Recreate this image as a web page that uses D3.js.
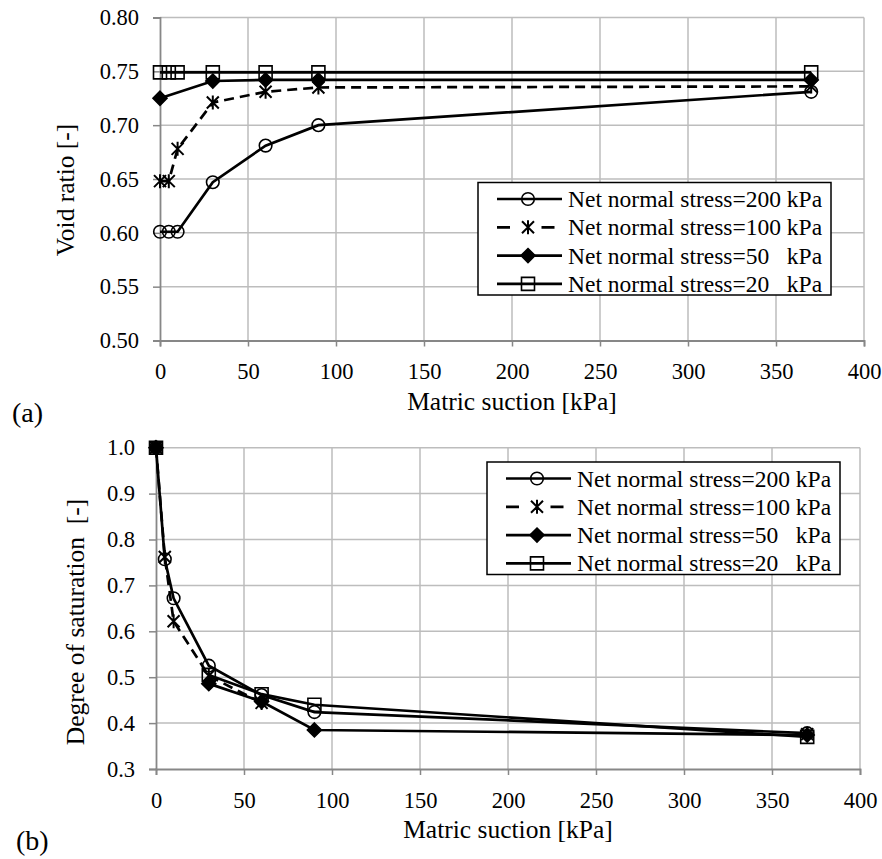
<!DOCTYPE html>
<html>
<head>
<meta charset="utf-8">
<script src="https://cdn.jsdelivr.net/npm/d3@7"></script>
<style>
  html, body { margin: 0; padding: 0; background: #fff; }
  svg text { font-family: "Liberation Serif", "Times New Roman", serif; fill: #000; }
</style>
</head>
<body>
<svg id="chart" width="882" height="859"></svg>
<script>
/* Two stacked panels: void ratio and degree of saturation vs matric suction */

const suction = [0, 5, 10, 30, 60, 90, 370];
const seriesNames = [
  'Net normal stress=200 kPa',
  'Net normal stress=100 kPa',
  'Net normal stress=50   kPa',
  'Net normal stress=20   kPa'
];
const seriesMarkers = ['circle', 'star', 'diamond', 'square'];
const seriesDashed = [false, true, false, false];

// panel (a): void ratio [-]
const voidRatio200 = [0.601, 0.601, 0.601, 0.647, 0.681, 0.700, 0.731];
const voidRatio100 = [0.648, 0.648, 0.678, 0.721, 0.731, 0.735, 0.736];
const voidRatio50 = [0.725, null, null, 0.741, 0.742, 0.742, 0.742];
const voidRatio20 = [0.749, 0.749, 0.749, 0.749, 0.749, 0.749, 0.749];

// panel (b): degree of saturation [-]
const saturation200 = [1.0, 0.757, 0.672, 0.525, 0.461, 0.424, 0.378];
const saturation100 = [1.0, 0.762, 0.622, 0.503, 0.444, null, 0.376];
const saturation50 = [1.0, null, null, 0.486, 0.447, 0.385, 0.374];
const saturation20 = [1.0, null, null, 0.505, 0.463, 0.440, 0.370];

const xTicks = [0, 50, 100, 150, 200, 250, 300, 350, 400];
const voidTicks = [0.50, 0.55, 0.60, 0.65, 0.70, 0.75, 0.80];
const satTicks = [0.3, 0.4, 0.5, 0.6, 0.7, 0.8, 0.9, 1.0];

const svg = d3.select('#chart');

function markerPath(type) {
  if (type === 'star') {
    const s = 6;
    return `M${-s},${-s}L${s},${s}M${-s},${s}L${s},${-s}M0,${-s - 1}L0,${s + 1}`;
  }
  if (type === 'diamond') return 'M0,-7L7,0L0,7L-7,0Z';
  if (type === 'square') return 'M-6.5,-6.5H6.5V6.5H-6.5Z';
  return d3.arc()({ innerRadius: 0, outerRadius: 6.3, startAngle: 0, endAngle: 2 * Math.PI });
}

function drawMarker(sel, type) {
  sel.append('path')
    .attr('d', markerPath(type))
    .attr('fill', type === 'diamond' ? '#000' : 'none')
    .attr('stroke', '#000')
    .attr('stroke-width', type === 'star' ? 2 : 1.6);
}

function drawPanel(p) {
  const x = d3.scaleLinear().domain([0, 400]).range([p.left, p.right]);
  const y = d3.scaleLinear().domain(p.yDomain).range([p.bottom, p.top]);
  const g = svg.append('g');

  // grid
  g.append('g').selectAll('line').data(p.yTicks.slice(1)).join('line')
    .attr('x1', p.left).attr('x2', p.right)
    .attr('y1', d => y(d)).attr('y2', d => y(d))
    .attr('stroke', '#bdbdbd').attr('stroke-width', 1.5);
  g.append('g').selectAll('line').data(xTicks.slice(1)).join('line')
    .attr('x1', d => x(d)).attr('x2', d => x(d))
    .attr('y1', p.top).attr('y2', p.bottom)
    .attr('stroke', '#bdbdbd').attr('stroke-width', 1.5);

  // axes
  const xAxis = g.append('g').attr('transform', `translate(0,${p.bottom})`)
    .call(d3.axisBottom(x).tickValues(xTicks).tickSize(6).tickPadding(17).tickFormat(d3.format('d')));
  const yAxis = g.append('g').attr('transform', `translate(${p.left},0)`)
    .call(d3.axisLeft(y).tickValues(p.yTicks).tickSize(7).tickPadding(14).tickFormat(d3.format(p.yFormat)));
  [xAxis, yAxis].forEach(a => {
    a.attr('font-family', null);
    a.select('.domain').attr('stroke', '#878787').attr('stroke-width', 1.8);
    a.selectAll('.tick line').attr('stroke', '#878787').attr('stroke-width', 1.5);
    a.selectAll('text').attr('font-size', 22.5).attr('fill', '#000');
  });

  g.append('text')
    .attr('x', (p.left + p.right) / 2).attr('y', p.bottom + 69)
    .attr('text-anchor', 'middle').attr('font-size', 25.5)
    .text('Matric suction [kPa]');
  g.append('text')
    .attr('transform', `translate(${p.yTitleX},${p.yTitleY}) rotate(-90)`)
    .attr('text-anchor', 'middle').attr('font-size', 25.5)
    .attr('xml:space', 'preserve')
    .text(p.yTitle);
  g.append('text')
    .attr('x', p.labelX).attr('y', p.bottom + 81)
    .attr('font-size', 28)
    .text(p.panelLabel);

  // series
  p.series.forEach((vals, i) => {
    const pts = suction.map((s, k) => ({ x: s, y: vals[k] }));
    const line = d3.line()
      .defined(d => d.y != null)
      .x(d => x(d.x)).y(d => y(d.y));
    const drawn = p.connectGaps ? pts.filter(d => d.y != null) : pts;
    g.append('path')
      .datum(drawn)
      .attr('d', line)
      .attr('fill', 'none')
      .attr('stroke', '#000')
      .attr('stroke-width', 2.7)
      .attr('stroke-dasharray', seriesDashed[i] ? '10,6' : null);
    pts.filter(d => d.y != null).forEach(d => {
      const m = g.append('g').attr('transform', `translate(${x(d.x)},${y(d.y)})`);
      drawMarker(m, seriesMarkers[i]);
    });
  });

  // legend
  const lg = g.append('g');
  lg.append('rect')
    .attr('x', p.legend.x).attr('y', p.legend.y)
    .attr('width', 353).attr('height', 112.5)
    .attr('fill', '#fff').attr('stroke', '#000').attr('stroke-width', 1.5);
  seriesNames.forEach((name, i) => {
    const ry = p.legend.y + 16.5 + i * 28.3;
    const lx = p.legend.x + 19;
    lg.append('line')
      .attr('x1', lx).attr('x2', lx + 65)
      .attr('y1', ry).attr('y2', ry)
      .attr('stroke', '#000').attr('stroke-width', 2.7)
      .attr('stroke-dasharray', seriesDashed[i] ? '13,31.5,13,20' : null);
    drawMarker(lg.append('g').attr('transform', `translate(${lx + 31},${ry})`), seriesMarkers[i]);
    lg.append('text')
      .attr('x', lx + 71).attr('y', ry + 8)
      .attr('font-size', 23.5)
      .attr('xml:space', 'preserve')
      .text(name);
  });
}

drawPanel({
  left: 160, right: 864, top: 17.5, bottom: 340.5,
  yDomain: [0.5, 0.8], yTicks: voidTicks, yFormat: '.2f',
  yTitle: 'Void ratio [-]', yTitleX: 74, yTitleY: 190,
  panelLabel: '(a)', labelX: 12,
  series: [voidRatio200, voidRatio100, voidRatio50, voidRatio20],
  connectGaps: true,
  legend: { x: 478, y: 182.5 }
});

drawPanel({
  left: 156, right: 860, top: 447.7, bottom: 769,
  yDomain: [0.3, 1.0], yTicks: satTicks, yFormat: '.1f',
  yTitle: 'Degree of saturation  [-]', yTitleX: 84, yTitleY: 622,
  panelLabel: '(b)', labelX: 16,
  series: [saturation200, saturation100, saturation50, saturation20],
  connectGaps: false,
  legend: { x: 487, y: 462 }
});
</script>
</body>
</html>
